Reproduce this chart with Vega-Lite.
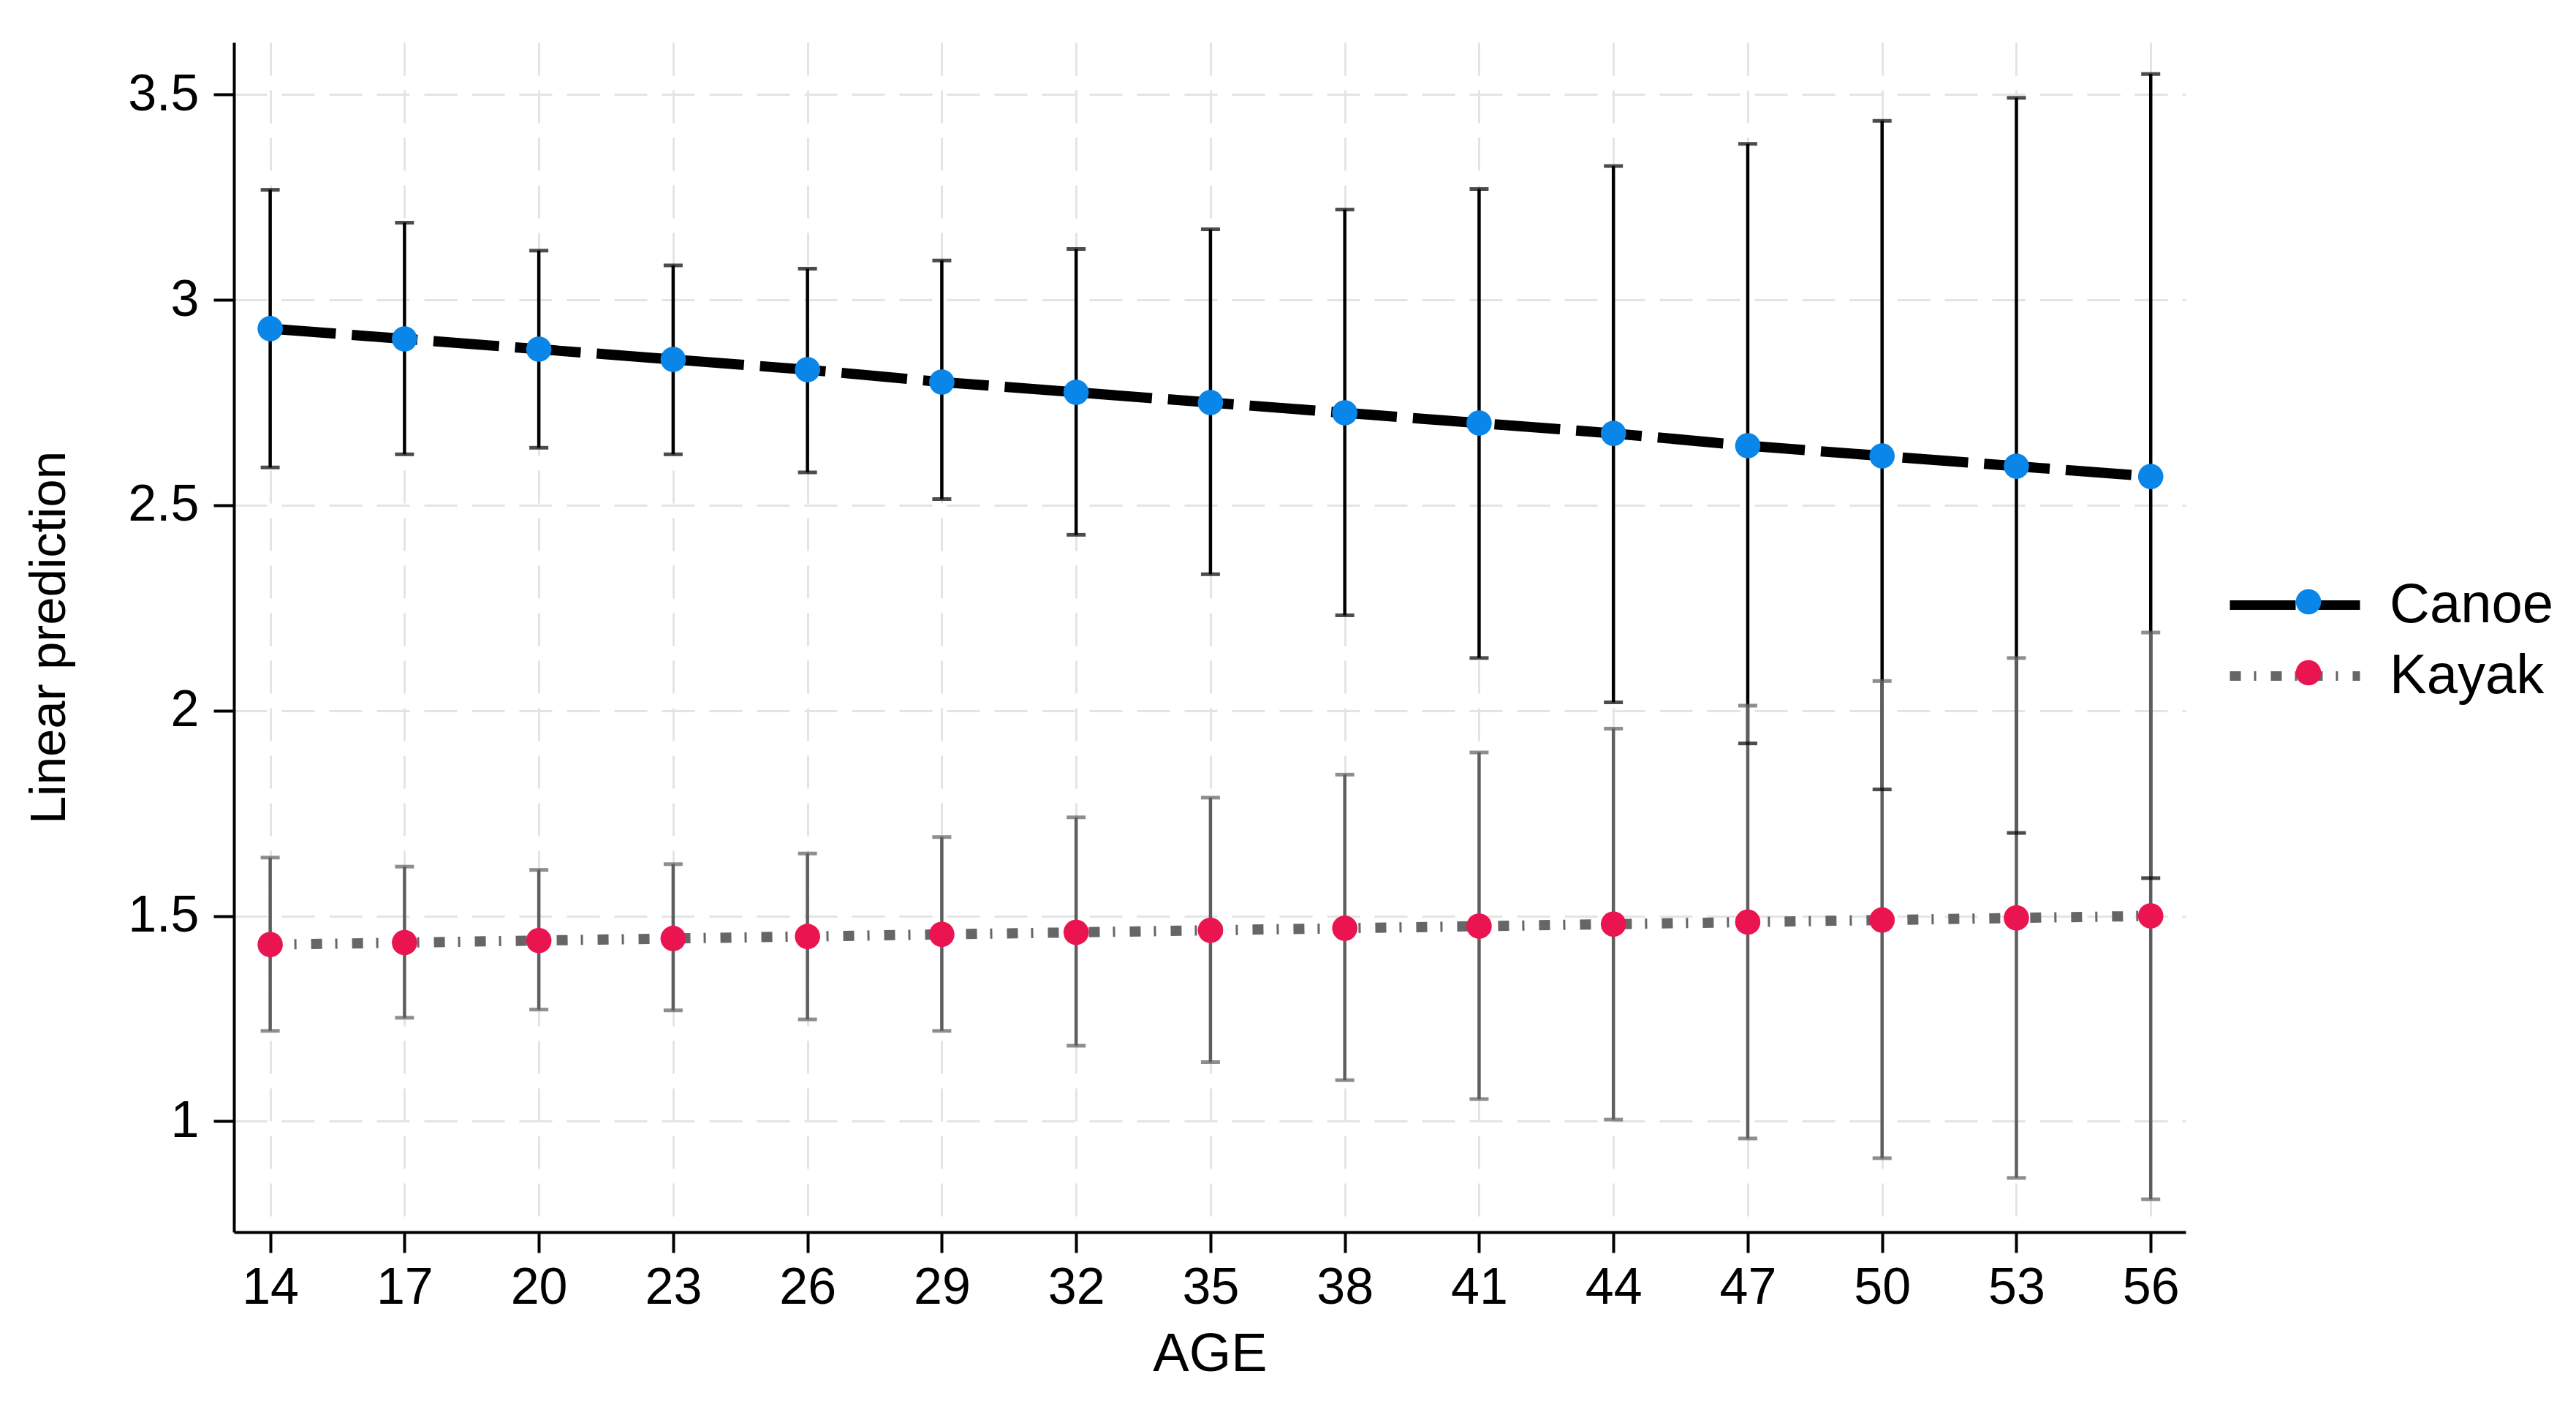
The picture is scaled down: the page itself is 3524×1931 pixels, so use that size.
{
  "$schema": "https://vega.github.io/schema/vega-lite/v6.json",
  "width": 2670,
  "height": 1627,
  "autosize": {"type": "none"},
  "padding": {"left": 320, "top": 58, "right": 534, "bottom": 246},
  "background": "white",
  "config": {
    "font": "Liberation Sans",
    "view": {"stroke": null},
    "axis": {
      "grid": true,
      "gridColor": "#e4e4e4",
      "gridDash": [45, 20],
      "gridWidth": 3,
      "domainColor": "black",
      "domainWidth": 4,
      "tickColor": "black",
      "tickWidth": 4,
      "tickSize": 28,
      "labelFontSize": 70,
      "labelColor": "black",
      "labelFlush": false,
      "labelOverlap": false,
      "titleFontSize": 72,
      "titleFontWeight": "normal",
      "titleColor": "black"
    }
  },
  "data": {
    "values": [
      {"age": 14, "group": "Canoe", "pred": 2.93, "lo": 2.592, "hi": 3.268},
      {"age": 17, "group": "Canoe", "pred": 2.905, "lo": 2.624, "hi": 3.188},
      {"age": 20, "group": "Canoe", "pred": 2.88, "lo": 2.64, "hi": 3.12},
      {"age": 23, "group": "Canoe", "pred": 2.855, "lo": 2.624, "hi": 3.084},
      {"age": 26, "group": "Canoe", "pred": 2.83, "lo": 2.58, "hi": 3.076},
      {"age": 29, "group": "Canoe", "pred": 2.80, "lo": 2.515, "hi": 3.096},
      {"age": 32, "group": "Canoe", "pred": 2.775, "lo": 2.428, "hi": 3.124},
      {"age": 35, "group": "Canoe", "pred": 2.75, "lo": 2.332, "hi": 3.172},
      {"age": 38, "group": "Canoe", "pred": 2.725, "lo": 2.232, "hi": 3.22},
      {"age": 41, "group": "Canoe", "pred": 2.70, "lo": 2.128, "hi": 3.27},
      {"age": 44, "group": "Canoe", "pred": 2.675, "lo": 2.02, "hi": 3.326},
      {"age": 47, "group": "Canoe", "pred": 2.645, "lo": 1.92, "hi": 3.38},
      {"age": 50, "group": "Canoe", "pred": 2.62, "lo": 1.808, "hi": 3.436},
      {"age": 53, "group": "Canoe", "pred": 2.595, "lo": 1.702, "hi": 3.492},
      {"age": 56, "group": "Canoe", "pred": 2.57, "lo": 1.592, "hi": 3.55},
      {"age": 14, "group": "Kayak", "pred": 1.43, "lo": 1.22, "hi": 1.642},
      {"age": 17, "group": "Kayak", "pred": 1.435, "lo": 1.252, "hi": 1.62},
      {"age": 20, "group": "Kayak", "pred": 1.44, "lo": 1.272, "hi": 1.612},
      {"age": 23, "group": "Kayak", "pred": 1.445, "lo": 1.27, "hi": 1.626},
      {"age": 26, "group": "Kayak", "pred": 1.45, "lo": 1.248, "hi": 1.652},
      {"age": 29, "group": "Kayak", "pred": 1.455, "lo": 1.22, "hi": 1.692},
      {"age": 32, "group": "Kayak", "pred": 1.46, "lo": 1.184, "hi": 1.74},
      {"age": 35, "group": "Kayak", "pred": 1.465, "lo": 1.144, "hi": 1.788},
      {"age": 38, "group": "Kayak", "pred": 1.47, "lo": 1.10, "hi": 1.844},
      {"age": 41, "group": "Kayak", "pred": 1.475, "lo": 1.054, "hi": 1.898},
      {"age": 44, "group": "Kayak", "pred": 1.48, "lo": 1.004, "hi": 1.956},
      {"age": 47, "group": "Kayak", "pred": 1.485, "lo": 0.958, "hi": 2.012},
      {"age": 50, "group": "Kayak", "pred": 1.49, "lo": 0.91, "hi": 2.072},
      {"age": 53, "group": "Kayak", "pred": 1.495, "lo": 0.862, "hi": 2.128},
      {"age": 56, "group": "Kayak", "pred": 1.50, "lo": 0.81, "hi": 2.19}
    ]
  },
  "encoding": {
    "x": {
      "field": "age",
      "type": "quantitative",
      "scale": {"domain": [13.19, 56.78], "nice": false, "zero": false},
      "axis": {
        "title": "AGE",
        "titleFontSize": 74,
        "values": [14, 17, 20, 23, 26, 29, 32, 35, 38, 41, 44, 47, 50, 53, 56],
        "labelPadding": 14,
        "titlePadding": 20
      }
    }
  },
  "layer": [
    {
      "mark": {"type": "rule", "strokeWidth": 4.5},
      "encoding": {
        "y": {
          "field": "lo",
          "type": "quantitative",
          "scale": {"domain": [0.73, 3.627], "nice": false, "zero": false},
          "axis": {
            "title": "Linear prediction",
            "titleFontSize": 69,
            "values": [1, 1.5, 2, 2.5, 3, 3.5],
            "format": "~g",
            "labelPadding": 20,
            "titlePadding": 72
          }
        },
        "y2": {"field": "hi"},
        "color": {
          "field": "group",
          "type": "nominal",
          "scale": {"domain": ["Kayak", "Canoe"], "range": ["#5e5e5e", "#000000"]},
          "legend": null
        }
      }
    },
    {
      "mark": {"type": "tick", "orient": "horizontal", "size": 26, "thickness": 5},
      "encoding": {
        "y": {"field": "lo", "type": "quantitative"},
        "color": {"field": "group", "type": "nominal", "legend": null}
      }
    },
    {
      "mark": {"type": "tick", "orient": "horizontal", "size": 26, "thickness": 5},
      "encoding": {
        "y": {"field": "hi", "type": "quantitative"},
        "color": {"field": "group", "type": "nominal", "legend": null}
      }
    },
    {
      "mark": {"type": "line", "strokeWidth": 14, "strokeCap": "butt"},
      "encoding": {
        "y": {"field": "pred", "type": "quantitative"},
        "stroke": {
          "field": "group",
          "type": "nominal",
          "scale": {"range": ["#000000", "#666666"]},
          "legend": {
            "orient": "none",
            "legendX": 2724,
            "legendY": 674,
            "title": null,
            "values": ["Canoe"],
            "symbolType": "stroke",
            "symbolSize": 31684,
            "symbolStrokeWidth": 13,
            "symbolDash": [90, 22],
            "labelFontSize": 76,
            "labelColor": "black",
            "labelOffset": 34,
            "labelLimit": 1000
          }
        },
        "strokeDash": {
          "field": "group",
          "type": "nominal",
          "sort": "descending",
          "scale": {"range": [[15, 18, 3, 20], [90, 22]]},
          "legend": {
            "orient": "none",
            "legendX": 2724,
            "legendY": 771,
            "title": null,
            "values": ["Kayak"],
            "symbolType": "stroke",
            "symbolSize": 31684,
            "symbolStrokeWidth": 13,
            "symbolStrokeColor": "#666666",
            "labelFontSize": 76,
            "labelColor": "black",
            "labelOffset": 34,
            "labelLimit": 1000
          }
        }
      }
    },
    {
      "mark": {"type": "circle", "size": 1200, "opacity": 1},
      "encoding": {
        "y": {"field": "pred", "type": "quantitative"},
        "fill": {
          "field": "group",
          "type": "nominal",
          "scale": {"domain": ["Canoe", "Kayak"], "range": ["#0a86e8", "#ea1450"]},
          "legend": {
            "orient": "none",
            "legendX": 2803,
            "legendY": 730,
            "title": null,
            "symbolType": "circle",
            "symbolSize": 1200,
            "symbolStrokeWidth": 0,
            "symbolOpacity": 1,
            "labelFontSize": 70,
            "labelExpr": "''",
            "labelOffset": 36,
            "labelLimit": 1000,
            "rowPadding": 27
          }
        }
      }
    }
  ]
}
